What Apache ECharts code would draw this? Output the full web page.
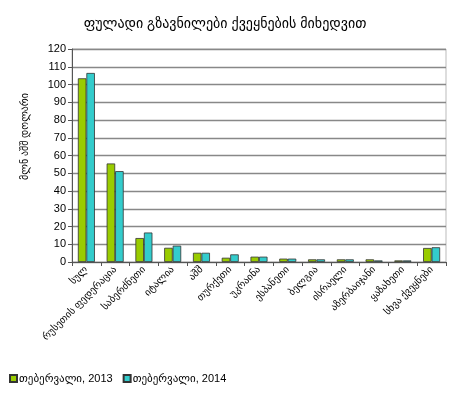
<!DOCTYPE html>
<html><head><meta charset="utf-8">
<script src="https://cdn.jsdelivr.net/npm/echarts@6/dist/echarts.min.js"></script>
<style>html,body{margin:0;padding:0;background:#fff}#c{width:450px;height:397px}</style>
</head><body><div id="c"></div>
<script>
const categories = ['სულ','რუსეთის ფედერაცია','საბერძნეთი','იტალია','აშშ','თურქეთი','უკრაინა','ესპანეთი','ბელგია','ისრაელი','აზერბაიჯანი','ყაზახეთი','სხვა ქვეყნები'];
const seriesNames = ['თებერვალი, 2013','თებერვალი, 2014'];
const feb2013 = [103.5, 55.5, 13.5, 8.0, 5.2, 2.4, 3.0, 1.9, 1.5, 1.5, 1.5, 0.9, 7.9];
const feb2014 = [106.5, 51.2, 16.6, 9.2, 5.2, 4.3, 3.0, 1.9, 1.5, 1.5, 0.9, 0.9, 8.3];
const yTicks = [0,10,20,30,40,50,60,70,80,90,100,110,120];
const titleText = 'ფულადი გზავნილები ქვეყნების მიხედვით';
const yName = 'მლნ აშშ დოლარი';

const FONT = '"Liberation Sans", "DejaVu Sans", sans-serif';
const chart = echarts.init(document.getElementById('c'), null, {renderer:'canvas'});
chart.setOption({
  animation:false,
  backgroundColor:'#fff',
  title:{text:titleText,left:'center',top:12,textStyle:{fontFamily:FONT,fontSize:14,fontWeight:'normal',color:'#000'}},
  legend:{left:4,top:368,itemWidth:7,itemHeight:7,itemGap:10,
    textStyle:{fontFamily:FONT,fontSize:11,color:'#000',padding:[0,0,0,-3]},
    data:seriesNames.map(n=>({name:n,icon:'rect'}))},
  grid:{left:72,right:4,top:49,bottom:135,show:true,borderColor:'#bbb',borderWidth:1},
  xAxis:{type:'category',data:categories,
    axisLine:{lineStyle:{color:'#555',width:1}},
    axisTick:{show:true,alignWithLabel:false,length:4,lineStyle:{color:'#555'}},
    axisLabel:{rotate:45,interval:0,fontFamily:FONT,fontSize:10,color:'#000',margin:6}},
  yAxis:{type:'value',min:0,max:120,interval:10,
    name:yName,nameLocation:'middle',nameGap:42,nameRotate:90,
    nameTextStyle:{fontFamily:FONT,fontSize:10,color:'#000',padding:[0,0,0,38]},
    axisLine:{show:true,lineStyle:{color:'#555'}},
    axisTick:{show:true,length:4,lineStyle:{color:'#555'}},
    axisLabel:{fontFamily:FONT,fontSize:11,color:'#000',margin:6,
      formatter:v=>yTicks.includes(v)?String(v):''},
    splitLine:{lineStyle:{color:'#888',width:1.3}}},
  series:[
    {name:seriesNames[0],type:'bar',data:feb2013,barWidth:8.5,barGap:'0%',
     itemStyle:{color:'#99cc00',borderColor:'#333',borderWidth:0.8}},
    {name:seriesNames[1],type:'bar',data:feb2014,barWidth:8.5,barGap:'0%',
     itemStyle:{color:'#33cccc',borderColor:'#333',borderWidth:0.8}}
  ]
});
</script></body></html>
